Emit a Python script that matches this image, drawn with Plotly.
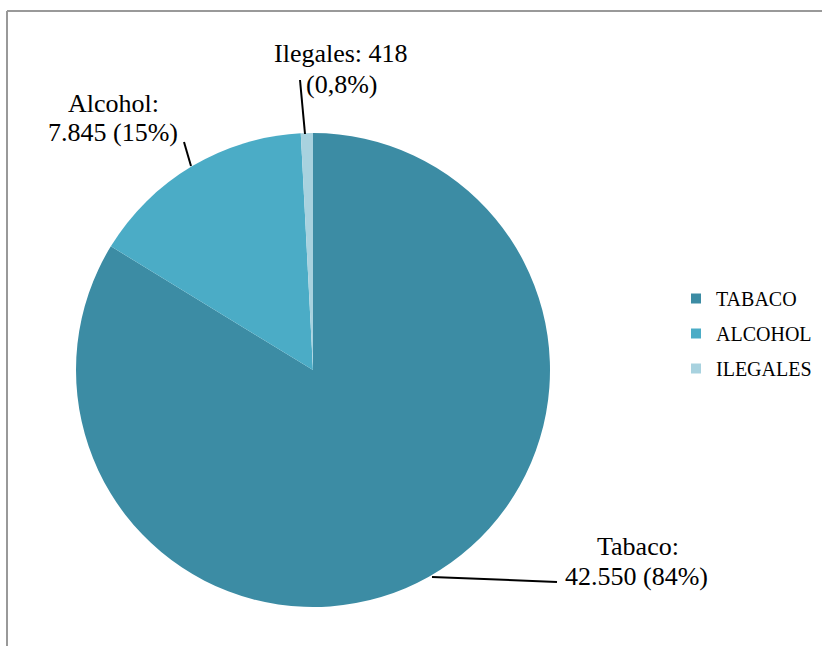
import plotly.graph_objects as go

categories = ["Tabaco", "Alcohol", "Ilegales"]
legend_labels = ["TABACO", "ALCOHOL", "ILEGALES"]
values = [42550, 7845, 418]
pct_labels = ["84%", "15%", "0,8%"]
colors = ["#3C8CA4", "#4BACC6", "#A8D2DF"]

W, H = 822, 646
def px(x):
    return x / W
def py(y):
    return 1 - y / H

def fmt(v):
    return f"{v:,}".replace(",", ".")

fig = go.Figure()
fig.add_trace(go.Pie(
    labels=categories, values=values, sort=False, direction="clockwise", rotation=0,
    marker=dict(colors=colors, line=dict(width=0)),
    textinfo="none", hoverinfo="label+value+percent", showlegend=False,
    domain=dict(x=[px(76), px(550)], y=[py(607), py(133)]),
))
for lab, col in zip(legend_labels, colors):
    fig.add_trace(go.Scatter(x=[None], y=[None], mode="markers", name=lab, legendgroup=lab,
                             marker=dict(symbol="square", size=10, color=col)))

font = dict(family="Liberation Serif", size=26, color="black")
label_lines = {
    "Ilegales": [f"Ilegales: {fmt(values[2])}", f"({pct_labels[2]})"],
    "Alcohol": ["Alcohol:", f"{fmt(values[1])} ({pct_labels[1]})"],
    "Tabaco": ["Tabaco:", f"{fmt(values[0])} ({pct_labels[0]})"],
}
label_pos = {"Ilegales": [(341, 54), (341, 85)],
             "Alcohol": [(113, 104), (113, 133)],
             "Tabaco": [(638, 546), (636, 576)]}
annotations = []
for k, lines in label_lines.items():
    for t, (x, y) in zip(lines, label_pos[k]):
        annotations.append(dict(x=px(x), y=py(y), xref="paper", yref="paper", text=t,
                                showarrow=False, font=font, xanchor="center", yanchor="middle"))

leaders = [((305, 134), (300, 80)), ((191, 166), (184, 142)), ((432, 577), (557, 582))]
shapes = []
for (x0, y0), (x1, y1) in leaders:
    shapes.append(dict(type="line", xref="paper", yref="paper", x0=px(x0), y0=py(y0),
                       x1=px(x1), y1=py(y1), line=dict(color="black", width=2)))
shapes.append(dict(type="line", xref="paper", yref="paper", x0=px(7), y0=py(11), x1=1, y1=py(11),
                   line=dict(color="#999999", width=2)))
shapes.append(dict(type="line", xref="paper", yref="paper", x0=px(7), y0=py(11), x1=px(7), y1=0,
                   line=dict(color="#999999", width=2)))

fig.update_layout(
    width=W, height=H, margin=dict(l=0, r=0, t=0, b=0),
    paper_bgcolor="white", plot_bgcolor="white",
    xaxis=dict(visible=False), yaxis=dict(visible=False),
    annotations=annotations, shapes=shapes,
    legend=dict(x=px(676), y=py(279), xanchor="left", yanchor="top",
                font=dict(family="Liberation Serif", size=20, color="black"),
                tracegroupgap=6, itemwidth=30, bgcolor="rgba(0,0,0,0)"),
)
fig.write_html("out.html", config={"displayModeBar": False},
               post_script="document.body.style.margin='0';")
